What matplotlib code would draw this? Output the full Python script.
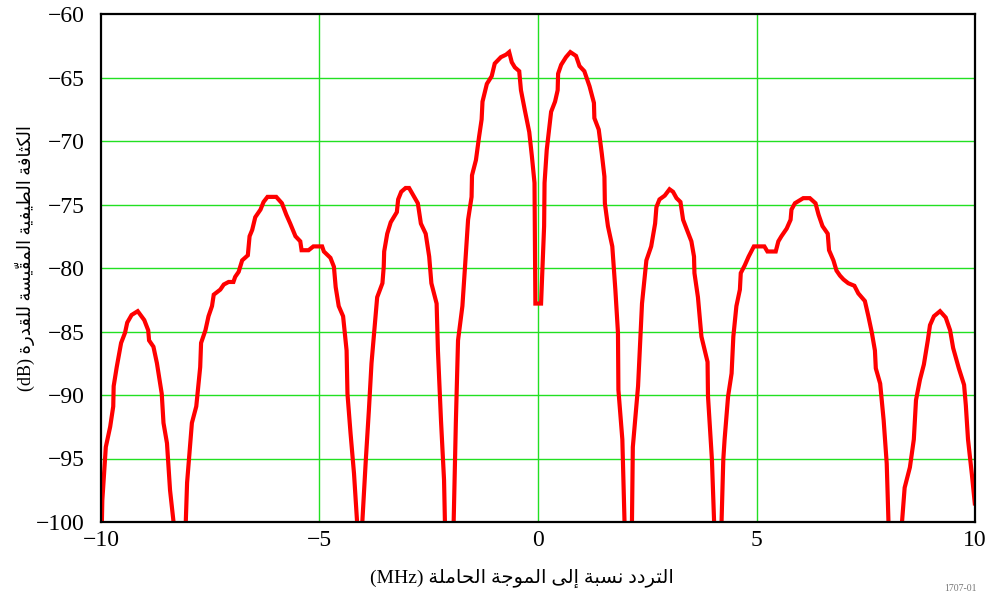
import numpy as np
import matplotlib
matplotlib.use("Agg")
import matplotlib.pyplot as plt

# 频谱各旁瓣，单位 MHz / dB
f_l1 = [-9.98, -9.97, -9.89, -9.79, -9.72, -9.71, -9.64, -9.54, -9.45, -9.40, -9.30,
        -9.16, -9.01, -8.92, -8.90, -8.80, -8.72, -8.61, -8.57, -8.49, -8.42, -8.34]
p_l1 = [-100, -98.3, -94.1, -92.5, -90.9, -89.3, -87.8, -85.9, -85.1, -84.3, -83.7,
        -83.4, -84.1, -84.9, -85.7, -86.2, -87.5, -89.9, -92.2, -93.8, -97.5, -100]

f_l2 = [-8.06, -8.03, -7.92, -7.82, -7.73, -7.71, -7.61, -7.54, -7.46, -7.42, -7.27,
        -7.19, -7.08, -6.97, -6.93, -6.85, -6.77, -6.64, -6.60, -6.54, -6.47, -6.35,
        -6.28, -6.19, -5.99, -5.86, -5.76, -5.67, -5.55, -5.44, -5.41, -5.25, -5.14,
        -4.94, -4.90, -4.75, -4.67, -4.63, -4.56, -4.46, -4.38, -4.36, -4.29, -4.21, -4.14]
p_l2 = [-100, -96.9, -92.2, -90.9, -87.8, -85.9, -84.9, -83.8, -83.0, -82.1, -81.7,
        -81.3, -81.1, -81.1, -80.7, -80.3, -79.4, -79.0, -77.5, -77.0, -76.0, -75.4,
        -74.8, -74.4, -74.4, -74.9, -75.8, -76.5, -77.5, -77.9, -78.6, -78.6, -78.3,
        -78.3, -78.7, -79.2, -79.9, -81.5, -83.0, -83.8, -86.5, -89.9, -93.0, -96.2, -100]

f_l3 = [-4.02, -3.94, -3.87, -3.81, -3.75, -3.68, -3.56, -3.53, -3.52, -3.45, -3.37,
        -3.23, -3.20, -3.13, -3.03, -2.95, -2.85, -2.75, -2.68, -2.57, -2.49, -2.44,
        -2.32, -2.29, -2.22, -2.15, -2.13]
p_l3 = [-100, -95.1, -91.2, -87.5, -85.1, -82.3, -81.2, -79.9, -78.7, -77.3, -76.4,
        -75.6, -74.6, -74.0, -73.7, -73.7, -74.3, -74.9, -76.5, -77.3, -79.1, -81.2,
        -82.8, -86.5, -92.0, -96.7, -100]

f_c = [-1.93, -1.88, -1.83, -1.73, -1.67, -1.60, -1.52, -1.51, -1.42, -1.35, -1.29,
       -1.27, -1.17, -1.06, -0.99, -0.85, -0.73, -0.66, -0.60, -0.53, -0.43, -0.39,
       -0.30, -0.20, -0.14, -0.08, -0.06, 0.07, 0.14, 0.15, 0.20, 0.30, 0.39, 0.45,
       0.46, 0.53, 0.64, 0.74, 0.87, 0.95, 1.06, 1.18, 1.28, 1.29, 1.39, 1.46, 1.52,
       1.53, 1.60, 1.70, 1.77, 1.83, 1.84, 1.93, 1.98]
p_c = [-100, -92.2, -85.7, -83.0, -79.9, -76.2, -74.4, -72.7, -71.5, -69.7, -68.3,
       -66.9, -65.5, -64.9, -63.9, -63.4, -63.2, -63.0, -63.8, -64.2, -64.5, -66.0,
       -67.6, -69.3, -71.2, -73.3, -82.8, -82.8, -76.7, -73.3, -70.7, -67.7, -66.9, -66.0,
       -64.7, -64.0, -63.4, -63.0, -63.3, -64.1, -64.5, -65.7, -67.0, -68.2, -69.1, -71.0,
       -72.8, -74.9, -76.7, -78.3, -81.7, -85.1, -89.6, -93.5, -100]

f_r3 = [2.15, 2.17, 2.29, 2.38, 2.48, 2.59, 2.68, 2.71, 2.78, 2.90, 3.01, 3.09, 3.17,
        3.26, 3.32, 3.42, 3.51, 3.57, 3.58, 3.66, 3.74, 3.88, 3.89, 3.98, 4.03]
p_r3 = [-100, -94.1, -89.3, -82.8, -79.4, -78.3, -76.5, -75.2, -74.6, -74.3, -73.8,
        -74.0, -74.5, -74.8, -76.2, -77.1, -77.9, -79.1, -80.4, -82.3, -85.4, -87.4,
        -90.1, -95.1, -100]

f_r2 = [4.20, 4.24, 4.27, 4.35, 4.43, 4.47, 4.54, 4.62, 4.64, 4.73, 4.82, 4.94, 5.18,
        5.25, 5.44, 5.50, 5.57, 5.69, 5.78, 5.80, 5.88, 6.07, 6.22, 6.35, 6.42, 6.51,
        6.63, 6.66, 6.76, 6.83, 6.91, 6.99, 7.10, 7.24, 7.33, 7.48, 7.56, 7.64, 7.71,
        7.73, 7.83, 7.91, 7.98, 8.02]
p_r2 = [-100, -95.1, -93.5, -90.1, -88.3, -85.4, -83.0, -81.7, -80.4, -79.8, -79.1,
        -78.3, -78.3, -78.7, -78.7, -77.9, -77.5, -76.9, -76.2, -75.4, -74.9, -74.5,
        -74.5, -74.9, -75.8, -76.7, -77.3, -78.6, -79.4, -80.2, -80.6, -80.9, -81.2,
        -81.4, -82.0, -82.6, -83.8, -85.1, -86.5, -87.9, -89.1, -92.0, -95.4, -100]

f_r1 = [8.33, 8.39, 8.51, 8.60, 8.65, 8.74, 8.83, 8.92, 8.97, 9.06, 9.20, 9.33, 9.43,
        9.50, 9.63, 9.75, 9.79, 9.84, 9.93, 10.0]
p_r1 = [-100, -97.3, -95.7, -93.5, -90.4, -88.8, -87.6, -85.7, -84.5, -83.8, -83.4,
        -83.9, -84.9, -86.3, -87.9, -89.2, -90.8, -93.5, -96.3, -98.7]

x_ticks = [-10, -5, 0, 5, 10]
y_ticks = [-100, -95, -90, -85, -80, -75, -70, -65, -60]

x_label_ar = "التردد نسبة إلى الموجة الحاملة"
y_label_ar = "الكثافة الطيفية المقيّسة للقدرة"

# matplotlib 不做阿拉伯文连写/从右到左，这里手动换成表现形式
FORMS = {
    "ا": ("\uFE8D", "\uFE8E", None, None),
    "إ": ("\uFE87", "\uFE88", None, None),
    "ب": ("\uFE8F", "\uFE90", "\uFE91", "\uFE92"),
    "ة": ("\uFE93", "\uFE94", None, None),
    "ت": ("\uFE95", "\uFE96", "\uFE97", "\uFE98"),
    "ث": ("\uFE99", "\uFE9A", "\uFE9B", "\uFE9C"),
    "ج": ("\uFE9D", "\uFE9E", "\uFE9F", "\uFEA0"),
    "ح": ("\uFEA1", "\uFEA2", "\uFEA3", "\uFEA4"),
    "د": ("\uFEA9", "\uFEAA", None, None),
    "ر": ("\uFEAD", "\uFEAE", None, None),
    "س": ("\uFEB1", "\uFEB2", "\uFEB3", "\uFEB4"),
    "ط": ("\uFEC1", "\uFEC2", "\uFEC3", "\uFEC4"),
    "ف": ("\uFED1", "\uFED2", "\uFED3", "\uFED4"),
    "ق": ("\uFED5", "\uFED6", "\uFED7", "\uFED8"),
    "ك": ("\uFED9", "\uFEDA", "\uFEDB", "\uFEDC"),
    "ل": ("\uFEDD", "\uFEDE", "\uFEDF", "\uFEE0"),
    "م": ("\uFEE1", "\uFEE2", "\uFEE3", "\uFEE4"),
    "ن": ("\uFEE5", "\uFEE6", "\uFEE7", "\uFEE8"),
    "و": ("\uFEED", "\uFEEE", None, None),
    "ى": ("\uFEEF", "\uFEF0", None, None),
    "ي": ("\uFEF1", "\uFEF2", "\uFEF3", "\uFEF4"),
}
MARKS = {"\u0651", "\u064E"}


def shape_ar(text):
    letters = [c for c in text]
    clusters = []
    for i, c in enumerate(letters):
        if c in MARKS:
            clusters[-1] += c
            continue
        if c not in FORMS:
            clusters.append(c)
            continue
        j = i - 1
        while j >= 0 and letters[j] in MARKS:
            j -= 1
        k = i + 1
        while k < len(letters) and letters[k] in MARKS:
            k += 1
        prev_c = letters[j] if j >= 0 else None
        next_c = letters[k] if k < len(letters) else None
        join_prev = prev_c in FORMS and FORMS[prev_c][2] is not None
        join_next = FORMS[c][2] is not None and next_c in FORMS
        if join_prev and join_next:
            g = FORMS[c][3]
        elif join_prev:
            g = FORMS[c][1]
        elif join_next:
            g = FORMS[c][2]
        else:
            g = FORMS[c][0]
        clusters.append(g)
    return "".join(reversed(clusters))


plt.rcParams["font.family"] = ["Liberation Serif", "DejaVu Sans"]

fig = plt.figure(figsize=(9.89, 5.95), dpi=100)
ax = fig.add_axes([101 / 989, 1 - 522 / 595, 874 / 989, 508 / 595])

grid_c = "#22e022"
for xv in x_ticks[1:-1]:
    ax.axvline(xv, color=grid_c, lw=1.0, zorder=1)
for yv in y_ticks[1:-1]:
    ax.axhline(yv, color=grid_c, lw=1.0, zorder=1)

for f, p in [(f_l1, p_l1), (f_l2, p_l2), (f_l3, p_l3), (f_c, p_c),
             (f_r3, p_r3), (f_r2, p_r2), (f_r1, p_r1)]:
    ax.plot(f, p, color="#ff0000", lw=3.0, solid_joinstyle="miter",
            solid_capstyle="butt", zorder=3)

ax.set_xlim(-10, 10)
ax.set_ylim(-100, -60)
ax.set_xticks(x_ticks)
ax.set_yticks(y_ticks)
ax.set_xticklabels(["\u2212" + str(abs(v)) if v < 0 else str(v) for v in x_ticks])
ax.set_yticklabels(["\u2212" + str(abs(v)) for v in y_ticks])
ax.tick_params(length=0, labelsize=17)
ax.tick_params(axis="y", pad=12)
ax.tick_params(axis="x", pad=6)
for s in ax.spines.values():
    s.set_linewidth(1.6)
    s.set_color("black")
    s.set_zorder(4)

fig.text(522 / 989, 1 - 578 / 595, "(MHz) " + shape_ar(x_label_ar),
         ha="center", va="center", fontsize=14)
fig.text(25 / 989, 1 - 258 / 595, "(dB) " + shape_ar(y_label_ar),
         ha="center", va="center", rotation=90, fontsize=13)
fig.text(0.988, 0.004, "1707-01", ha="right", va="bottom", fontsize=7, color="#777777")

fig.savefig("out.png", dpi=100)
